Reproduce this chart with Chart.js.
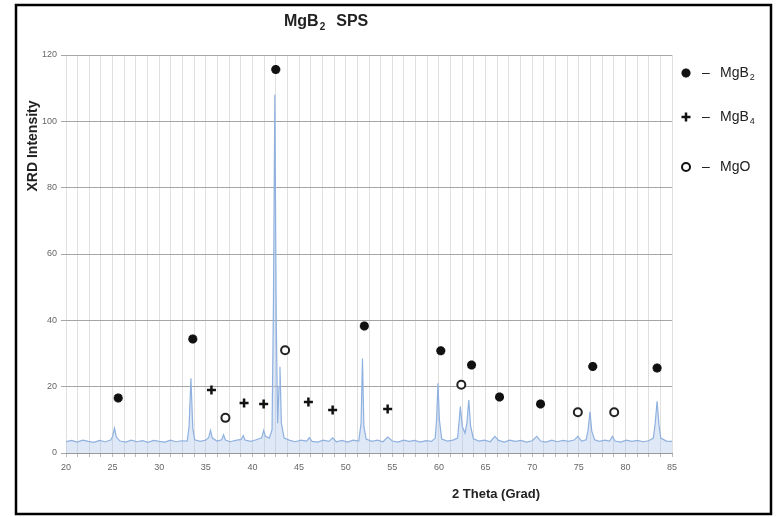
<!DOCTYPE html>
<html><head><meta charset="utf-8">
<script src="https://cdn.jsdelivr.net/npm/chart.js@4/dist/chart.umd.min.js"></script>
<style>html,body{margin:0;padding:0;background:#fff;overflow:hidden}#wrap{width:777px;height:517px}</style>
</head><body><div id="wrap"><canvas id="c" width="777" height="517"></canvas></div>
<script>
// ---- data ----
const twoTheta = [20.0,20.6,21.2,21.8,22.4,23.0,23.6,24.2,24.8,25.0,25.2,25.4,25.8,26.4,27.0,27.6,28.2,28.8,29.4,30.0,30.6,31.2,31.8,32.4,33.0,33.2,33.4,33.6,33.8,34.4,35.0,35.3,35.5,35.7,36.2,36.7,36.9,37.1,37.6,38.2,38.8,39.0,39.2,39.8,40.4,41.0,41.2,41.4,41.8,42.1,42.25,42.4,42.55,42.7,42.85,42.95,43.1,43.4,44.0,44.6,45.2,45.8,46.1,46.4,47.0,47.6,48.2,48.6,49.0,49.6,50.2,50.8,51.4,51.65,51.8,51.95,52.2,52.8,53.4,54.0,54.5,55.0,55.6,56.2,56.8,57.4,58.0,58.6,59.2,59.6,59.75,59.9,60.05,60.3,60.9,61.5,62.0,62.15,62.3,62.5,62.8,63.0,63.2,63.4,63.7,64.3,64.9,65.5,66.0,66.4,67.0,67.6,68.2,68.8,69.4,70.0,70.5,70.9,71.5,72.1,72.7,73.3,73.9,74.5,74.9,75.3,75.8,76.0,76.2,76.4,76.7,77.2,77.8,78.3,78.6,78.9,79.5,80.1,80.7,81.3,81.9,82.5,83.0,83.2,83.4,83.6,83.8,84.4,85.0];
const intensity = [3.4,3.8,3.3,3.9,3.5,3.2,3.8,3.4,3.9,5.0,7.5,4.8,3.6,3.3,3.9,3.4,3.7,3.2,3.8,3.5,3.3,3.9,3.4,3.7,3.6,8.0,22.5,7.5,4.0,3.5,3.9,4.6,6.8,4.5,3.6,4.0,5.5,3.9,3.4,3.8,4.1,5.2,3.9,3.5,4.0,4.6,6.8,5.0,4.5,7.0,45,108,40,9,20,26,9,4.5,3.8,3.4,3.9,3.6,4.6,3.5,3.3,3.9,3.5,4.6,3.4,3.8,3.3,3.9,3.6,9,28.5,8,4.2,3.5,3.9,3.4,4.8,3.6,3.3,3.9,3.5,3.8,3.3,3.7,3.5,4.5,10,21,10,4.2,3.6,3.9,4.5,9,14,8,6,9,16,8,4.3,3.6,3.9,3.4,5.0,3.8,3.3,3.9,3.5,3.8,3.3,3.7,5.0,3.6,3.3,3.9,3.4,3.8,3.5,3.9,5.0,3.6,4.0,7,12.4,6.5,4,3.5,3.9,3.6,5.0,3.6,3.3,3.9,3.5,3.8,3.4,3.7,4.5,9,15.6,8.5,4.5,3.6,3.5];
// phase markers (peak annotations)
const mgb2X = [25.6,33.6,42.5,52.0,60.2,63.5,66.5,70.9,76.5,83.4];
const mgb2Y = [16.6,34.4,115.6,38.3,30.8,26.5,16.9,14.8,26.1,25.6];
const mgb4X = [35.6,39.1,41.2,46.0,48.6,54.5];
const mgb4Y = [19.0,15.1,14.8,15.4,13.0,13.3];
const mgoX = [37.1,43.5,62.4,74.9,78.8];
const mgoY = [10.6,31.0,20.6,12.3,12.3];
const xTickLabels = [20,25,30,35,40,45,50,55,60,65,70,75,80,85];
const yTickLabels = [0,20,40,60,80,100,120];
const legendItems = [["MgB","2"],["MgB","4"],["MgO",""]];

const pts = (xs, ys) => xs.map((x, i) => ({x: x, y: ys[i]}));
const narrow = '"Liberation Sans Narrow","Liberation Sans",Arial,sans-serif';

const markerStyles = [
  {pointStyle:'star', radius:4.5, borderWidth:3, bg:'#111'},
  {pointStyle:'cross', radius:4.5, borderWidth:2.5, bg:'#111'},
  {pointStyle:'circle', radius:4, borderWidth:2, bg:'#fff'}
];

function drawSub(ctx, base, sub, x, y, size, weight) {
  ctx.font = weight + ' ' + size + 'px ' + narrow;
  ctx.textBaseline = 'middle';
  ctx.textAlign = 'left';
  ctx.fillText(base, x, y);
  const w = ctx.measureText(base).width;
  if (sub) {
    ctx.font = weight + ' ' + Math.round(size * 0.62) + 'px ' + narrow;
    ctx.fillText(sub, x + w + 1, y + size * 0.35);
    return w + 1 + ctx.measureText(sub).width;
  }
  return w;
}

const decor = {
  id: 'decor',
  beforeDraw(chart) {
    const ctx = chart.ctx;
    ctx.save();
    ctx.fillStyle = '#fff';
    ctx.fillRect(0, 0, chart.width, chart.height);
    ctx.restore();
  },
  afterDraw(chart) {
    const ctx = chart.ctx;
    ctx.save();
    // frame
    ctx.strokeStyle = '#000';
    ctx.lineWidth = 2.5;
    ctx.strokeRect(16, 5, 755, 509);
    ctx.fillStyle = '#222';
    // title
    let w = drawSub(ctx, 'MgB', '2', 284, 22, 16, 'bold');
    ctx.font = 'bold 16px ' + narrow;
    ctx.fillText('SPS', 284 + w + 11, 22);
    // y title
    ctx.save();
    ctx.translate(33, 146);
    ctx.rotate(-Math.PI / 2);
    ctx.font = 'bold 14px "Liberation Sans",Arial,sans-serif';
    ctx.textAlign = 'center';
    ctx.textBaseline = 'middle';
    ctx.fillText('XRD Intensity', 0, 0);
    ctx.restore();
    // x title
    ctx.font = 'bold 13px "Liberation Sans",Arial,sans-serif';
    ctx.textAlign = 'center';
    ctx.textBaseline = 'middle';
    ctx.fillText('2 Theta (Grad)', 496, 494);
    // legend
    const rows = [73, 117, 167];
    legendItems.forEach((it, i) => {
      const st = markerStyles[i];
      ctx.save();
      ctx.strokeStyle = '#111';
      ctx.fillStyle = st.bg;
      ctx.lineWidth = st.borderWidth;
      Chart.helpers.drawPoint(ctx, {pointStyle: st.pointStyle, radius: st.radius, borderWidth: st.borderWidth, rotation: 0}, 686, rows[i]);
      ctx.restore();
      ctx.fillStyle = '#222';
      ctx.font = '14px ' + narrow;
      ctx.textBaseline = 'middle';
      ctx.textAlign = 'left';
      ctx.fillText('\u2013', 702, rows[i]);
      drawSub(ctx, it[0], it[1], 720, rows[i], 14, 'normal');
    });
    ctx.restore();
  }
};

new Chart(document.getElementById('c'), {
  type: 'scatter',
  data: {
    datasets: [
      {label:'XRD', data: pts(twoTheta, intensity), showLine:true, borderColor:'#8fb1df', borderWidth:1.2,
       backgroundColor:'rgba(160,190,232,0.35)', fill:'origin', pointRadius:0, tension:0, order:3},
      {label:'MgB2', data: pts(mgb2X, mgb2Y), pointStyle:'star', pointRadius:4.5, pointBorderWidth:3,
       borderColor:'#111', backgroundColor:'#111', order:1},
      {label:'MgB4', data: pts(mgb4X, mgb4Y), pointStyle:'cross', pointRadius:4.5, pointBorderWidth:2.5,
       borderColor:'#111', backgroundColor:'#111', order:1},
      {label:'MgO', data: pts(mgoX, mgoY), pointStyle:'circle', pointRadius:4, pointBorderWidth:2,
       borderColor:'#222', backgroundColor:'#fff', order:1}
    ]
  },
  options: {
    responsive:false, animation:false, devicePixelRatio:1,
    layout:{padding:{left:20, right:105, top:55, bottom:34}},
    plugins:{legend:{display:false}, tooltip:{enabled:false}},
    scales:{
      x:{type:'linear', min:20, max:85,
        afterFit(s){ s.height = 30; },
        ticks:{stepSize:1.25, autoSkip:false, maxRotation:0, padding:5, color:'#666',
          font:{size:9, family:narrow},
          callback:(v)=> xTickLabels.includes(v) ? String(v) : ''},
        grid:{color:'#e0e0e0', lineWidth:1, tickLength:4, tickColor:'#bbb'},
        border:{color:'#999'}
      },
      y:{min:0, max:120,
        afterFit(s){ s.width = 46; },
        ticks:{stepSize:20, padding:4, color:'#666', font:{size:9, family:narrow},
          callback:(v)=> yTickLabels.includes(v) ? String(v) : ''},
        grid:{color:'#a6a6a6', lineWidth:1, tickLength:5},
        border:{display:false}
      }
    }
  },
  plugins:[decor]
});
</script></body></html>
